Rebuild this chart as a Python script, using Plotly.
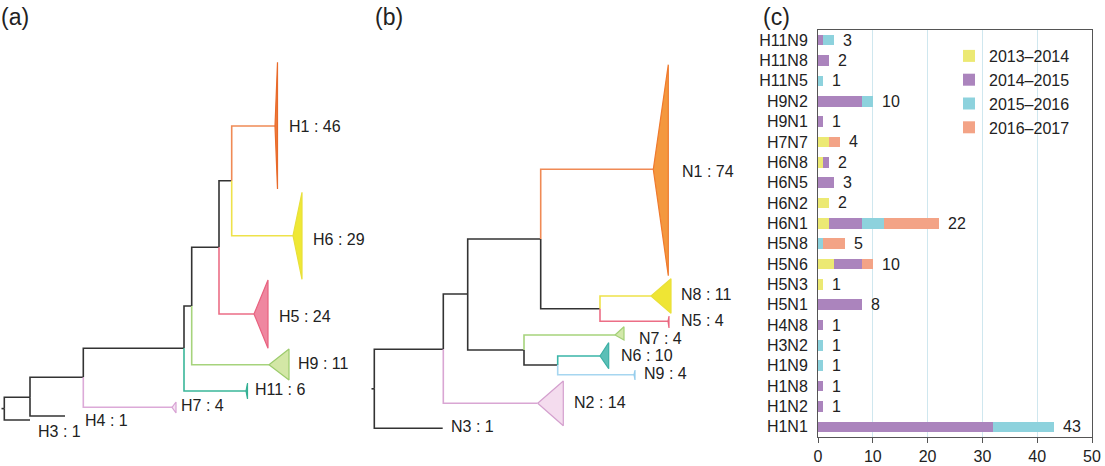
import plotly.graph_objects as go

W, H = 1105, 466

# ---------------- bar chart data (panel c) ----------------
subtypes = ["H1N1", "H1N2", "H1N8", "H1N9", "H3N2", "H4N8", "H5N1", "H5N3", "H5N6", "H5N8",
            "H6N1", "H6N2", "H6N5", "H6N8", "H7N7", "H9N1", "H9N2", "H11N5", "H11N8", "H11N9"]
seasons = ["2013–2014", "2014–2015", "2015–2016", "2016–2017"]
s2013_14 = [0, 0, 0, 0, 0, 0, 0, 1, 3, 0, 2, 2, 0, 1, 2, 0, 0, 0, 0, 0]
s2014_15 = [32, 1, 1, 0, 0, 1, 8, 0, 5, 0, 6, 0, 3, 1, 0, 1, 8, 0, 2, 1]
s2015_16 = [11, 0, 0, 1, 1, 0, 0, 0, 0, 1, 4, 0, 0, 0, 0, 0, 2, 1, 0, 2]
s2016_17 = [0, 0, 0, 0, 0, 0, 0, 0, 2, 4, 10, 0, 0, 0, 2, 0, 0, 0, 0, 0]
x_ticks = [0, 10, 20, 30, 40, 50]

# ---------------- tree (a): HA lineages ----------------
# node, parent, depth (x), vertical position (y), lineage
a_node   = ["root", "n1", "out", "H3", "n2", "H7", "n3", "H11", "n4", "H9", "n5", "H5", "n6", "H1", "H6"]
a_parent = [None, "root", "root", "n1", "n1", "n2", "n2", "n3", "n3", "n4", "n4", "n5", "n5", "n6", "n6"]
a_x      = [4.3, 30, 30, 65, 83.3, 172, 184, 246, 191.7, 269, 219, 254, 231.7, 275, 293]
a_y      = [408.6, 397.3, 420, 416, 377.3, 407.3, 348.3, 391, 306, 364.7, 247.3, 314, 180.7, 126, 235.7]
a_lin    = ["k", "k", "k", "k", "k", "H7", "k", "H11", "k", "H9", "k", "H5", "k", "H1", "H6"]
# collapsed clades: apex node, far edge, top, bottom
a_clade      = ["H1", "H6", "H5", "H9", "H11", "H7"]
a_clade_far  = [277.5, 302, 268, 289, 247.5, 176]
a_clade_top  = [62.3, 192.3, 280, 349, 383, 402]
a_clade_bot  = [189, 279.3, 348.3, 380, 399, 413]
a_labels   = ["H1 : 46", "H6 : 29", "H5 : 24", "H9 : 11", "H11 : 6", "H7 : 4", "H4 : 1", "H3 : 1"]
a_label_x  = [289, 313, 279, 298, 255, 181, 85, 38]
a_label_y  = [128, 241, 318, 365, 391, 407, 422, 433]

# ---------------- tree (b): NA lineages ----------------
b_node   = ["root", "N3", "m1", "N2", "m2", "m3", "N7", "m4", "N6", "N9", "m5", "N1", "m6", "N8", "N5"]
b_parent = [None, "root", "root", "m1", "m1", "m2", "m3", "m3", "m4", "m4", "m2", "m5", "m5", "m6", "m6"]
b_x      = [4.3, 72.7, 73.3, 167.7, 97.7, 154, 245, 187.7, 230, 264, 170.7, 283.3, 230, 281, 298]
b_y      = [388.8, 428.3, 349.3, 403.3, 294, 350, 335, 365, 356, 374.7, 239, 169.3, 308.7, 296, 321.3]
b_lin    = ["k", "k", "k", "N2", "k", "k", "N7", "k", "N6", "N9", "k", "N1", "k", "N8", "N5"]
b_clade      = ["N1", "N8", "N5", "N7", "N6", "N9", "N2"]
b_clade_far  = [298.3, 301, 299, 254, 238.7, 265, 193.3]
b_clade_top  = [64.7, 278.7, 316, 326.7, 342.7, 370, 381]
b_clade_bot  = [275.7, 313.3, 328, 340, 368.7, 380, 425.7]
b_labels   = ["N1 : 74", "N8 : 11", "N5 : 4", "N7 : 4", "N6 : 10", "N9 : 4", "N2 : 14", "N3 : 1"]
b_label_x  = [312, 311, 311, 269, 251, 274, 204, 81]
b_label_y  = [173, 296, 322, 340, 357, 375, 404, 428]

# ---------------- styles ----------------
bar_colors = ["#ece973", "#ab84bd", "#8dd2dd", "#f3a386"]
line_col = {"k": "#333333", "H1": "#f08a55", "H6": "#eee24a", "H5": "#ec6e86", "H9": "#a6d37c",
            "H11": "#3ab699", "H7": "#dcaad8",
            "N1": "#f08a55", "N8": "#eee24a", "N5": "#ec6e86", "N7": "#a6d37c",
            "N6": "#3ab5a8", "N9": "#a6d6f0", "N2": "#d9a6d3"}
clade_fill = {"H1": "#ef7a3a", "H6": "#efe834", "H5": "#ef87a0", "H9": "#d3e7a6", "H11": "#3ab699",
              "H7": "#f5e4f3", "N1": "#f4983e", "N8": "#efe534", "N5": "#ec6e86", "N7": "#d2e8aa",
              "N6": "#5bbfb7", "N9": "#a6d6f0", "N2": "#f4dcee"}
clade_edge = {"H1": "#e86a2a", "H6": "#e8e03a", "H5": "#e8627f", "H9": "#9ccb6c", "H11": "#34b094",
              "H7": "#d8a2d4", "N1": "#ef7a2e", "N8": "#e9e03a", "N5": "#ea6880", "N7": "#a3d077",
              "N6": "#3db0a5", "N9": "#96cdec", "N2": "#d4a0ce"}
FONT = "Liberation Sans, Arial, sans-serif"
TXT = "#222222"

fig = go.Figure()


def add_tree(node, parent, xs, ys, lin, clade, far, top, bot, labels, lx, ly, xa, ya):
    pos = {n: (xs[i], ys[i]) for i, n in enumerate(node)}
    segs = {}
    for i, n in enumerate(node):
        p = parent[i]
        if p is None:
            segs.setdefault("k", [[], []])
            segs["k"][0] += [xs[i] - 2.8, xs[i], None]
            segs["k"][1] += [ys[i], ys[i], None]
            continue
        px, py = pos[p]
        c = lin[i]
        segs.setdefault(c, [[], []])
        segs[c][0] += [px, px, xs[i], None]
        segs[c][1] += [py, ys[i], ys[i], None]
    for c, (sx, sy) in segs.items():
        fig.add_trace(go.Scatter(x=sx, y=sy, mode="lines", xaxis=xa, yaxis=ya,
                                 line=dict(color=line_col[c], width=1.6), showlegend=False,
                                 hoverinfo="skip"))
    for j, c in enumerate(clade):
        ax, ay = pos[c]
        fig.add_trace(go.Scatter(x=[ax, far[j], far[j], ax], y=[ay, top[j], bot[j], ay],
                                 mode="lines", fill="toself", fillcolor=clade_fill[c],
                                 line=dict(color=clade_edge[c], width=1.2), xaxis=xa, yaxis=ya,
                                 showlegend=False, hoverinfo="skip"))
    fig.add_trace(go.Scatter(x=lx, y=ly, mode="text", text=labels, textposition="middle right",
                             textfont=dict(family=FONT, size=16, color=TXT), xaxis=xa, yaxis=ya,
                             showlegend=False, hoverinfo="skip", cliponaxis=False))


add_tree(a_node, a_parent, a_x, a_y, a_lin, a_clade, a_clade_far, a_clade_top, a_clade_bot,
         a_labels, a_label_x, a_label_y, "x", "y")
add_tree(b_node, b_parent, b_x, b_y, b_lin, b_clade, b_clade_far, b_clade_top, b_clade_bot,
         b_labels, b_label_x, b_label_y, "x2", "y2")

# ---------------- bars ----------------
for name, vals, col in zip(seasons, [s2013_14, s2014_15, s2015_16, s2016_17], bar_colors):
    fig.add_trace(go.Bar(y=subtypes, x=vals, name=name, orientation="h", xaxis="x3", yaxis="y3",
                         marker=dict(color=col, line=dict(width=0))))

totals = [a + b + c + d for a, b, c, d in zip(s2013_14, s2014_15, s2015_16, s2016_17)]
annotations = []
for st, t in zip(subtypes, totals):
    annotations.append(dict(x=t, y=st, xref="x3", yref="y3", text=str(t), showarrow=False,
                            xanchor="left", yanchor="middle", xshift=7,
                            font=dict(family=FONT, size=16, color=TXT)))
for lab, px in zip(["(a)", "(b)", "(c)"], [-1, 373, 761]):
    annotations.append(dict(x=px / W, y=1 - 17 / H, xref="paper", yref="paper", text=lab,
                            showarrow=False, xanchor="left", yanchor="middle",
                            font=dict(family=FONT, size=23, color=TXT)))

hidden = dict(visible=False, fixedrange=True)
fig.update_layout(
    width=W, height=H, margin=dict(l=0, r=0, t=0, b=0, autoexpand=False),
    paper_bgcolor="white", plot_bgcolor="white",
    barmode="stack", bargap=0.48,
    font=dict(family=FONT, size=16, color=TXT),
    xaxis=dict(domain=[0, 370 / W], range=[0, 370], **hidden),
    yaxis=dict(domain=[0, 1], range=[H, 0], **hidden),
    xaxis2=dict(domain=[370 / W, 750 / W], range=[0, 380], **hidden),
    yaxis2=dict(domain=[0, 1], range=[H, 0], anchor="x2", **hidden),
    xaxis3=dict(domain=[818 / W, 1092 / W], range=[0, 50], tickvals=x_ticks, anchor="y3",
                showline=True, mirror=True, linecolor="#555555", linewidth=1,
                ticks="outside", ticklen=5, tickcolor="#555555", automargin=False,
                showgrid=True, gridcolor="#cfe7ef", gridwidth=1, zeroline=False,
                fixedrange=True, tickfont=dict(family=FONT, size=16, color=TXT)),
    yaxis3=dict(domain=[1 - 437 / H, 1 - 30 / H], range=[-0.5, 19.5], anchor="x3",
                categoryorder="array", categoryarray=subtypes, automargin=False,
                showline=True, mirror=True, linecolor="#555555", linewidth=1,
                ticks="", ticklabelstandoff=6, showgrid=False, fixedrange=True,
                tickfont=dict(family=FONT, size=16, color=TXT)),
    legend=dict(x=949 / W, y=1 - 39 / H, xanchor="left", yanchor="top", traceorder="normal",
                bgcolor="rgba(0,0,0,0)", font=dict(family=FONT, size=16, color=TXT),
                itemwidth=30, tracegroupgap=0),
    annotations=annotations,
)

fig.write_html("out.html", config={"displayModeBar": False},
               post_script="document.body.style.margin='0';document.body.style.overflow='hidden';")
